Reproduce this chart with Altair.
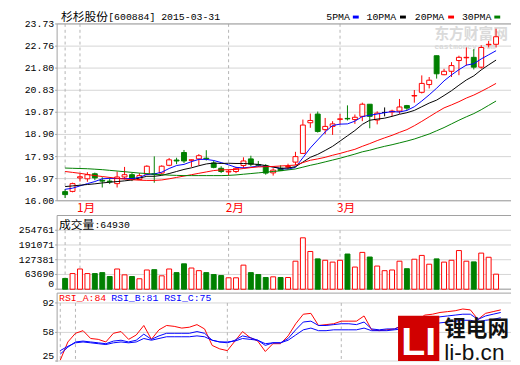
import altair as alt
import pandas as pd

stock_name = "杉杉股份"
stock_code = "600884"

dates = [
    "2014-12-30", "2014-12-31",
    "2015-01-05", "2015-01-06", "2015-01-07", "2015-01-08", "2015-01-09",
    "2015-01-12", "2015-01-13", "2015-01-14", "2015-01-15", "2015-01-16",
    "2015-01-19", "2015-01-20", "2015-01-21", "2015-01-22", "2015-01-23",
    "2015-01-26", "2015-01-27", "2015-01-28", "2015-01-29", "2015-01-30",
    "2015-02-02", "2015-02-03", "2015-02-04", "2015-02-05", "2015-02-06",
    "2015-02-09", "2015-02-10", "2015-02-11", "2015-02-12", "2015-02-13",
    "2015-02-16", "2015-02-17", "2015-02-25", "2015-02-26", "2015-02-27",
    "2015-03-02", "2015-03-03", "2015-03-04", "2015-03-05", "2015-03-06",
    "2015-03-09", "2015-03-10", "2015-03-11", "2015-03-12", "2015-03-13",
    "2015-03-16", "2015-03-17", "2015-03-18", "2015-03-19", "2015-03-20",
    "2015-03-23", "2015-03-24", "2015-03-25", "2015-03-26", "2015-03-27",
    "2015-03-30", "2015-03-31",
]

opens = [16.40, 16.41, 17.00, 16.96, 17.18, 16.89, 16.86, 16.75, 17.04, 17.14,
         16.93, 17.16, 17.18, 17.21, 17.55, 17.78, 18.11, 17.77, 17.83, 17.86,
         17.65, 17.42, 17.26, 17.28, 17.54, 17.83, 17.58, 17.53, 17.22, 17.42,
         17.47, 17.69, 18.07, 19.41, 19.79, 19.11, 19.25, 19.56, 19.60, 19.55,
         19.69, 20.22, 19.53, 19.86, 19.88, 19.92, 20.16, 20.58, 20.74, 21.08,
         22.34, 21.51, 21.66, 22.13, 22.25, 22.27, 21.84, 22.82, 22.84]
highs = [16.51, 16.79, 17.17, 17.25, 17.23, 17.03, 17.03, 17.28, 17.48, 17.21,
         17.21, 17.55, 17.94, 17.55, 17.87, 17.88, 18.22, 17.80, 18.04, 18.21,
         17.76, 17.51, 17.37, 17.48, 17.90, 17.97, 17.74, 17.60, 17.42, 17.55,
         17.62, 18.14, 19.55, 19.81, 19.90, 19.62, 19.48, 19.79, 20.17, 19.77,
         20.29, 20.22, 19.91, 20.08, 19.98, 20.45, 20.19, 20.84, 21.48, 21.41,
         22.34, 21.77, 22.06, 22.34, 22.70, 22.63, 22.80, 22.99, 23.52]
lows = [16.12, 16.37, 16.84, 16.83, 16.90, 16.58, 16.73, 16.58, 16.93, 16.86,
        16.90, 17.12, 16.79, 17.14, 17.51, 17.60, 17.65, 17.48, 17.55, 17.76,
        17.42, 17.21, 17.10, 17.21, 17.42, 17.51, 17.48, 17.14, 17.10, 17.30,
        17.38, 17.55, 18.05, 19.19, 18.98, 18.91, 18.88, 19.34, 19.51, 19.36,
        19.48, 19.17, 19.34, 19.69, 19.69, 19.80, 19.94, 20.29, 20.69, 20.91,
        21.34, 21.49, 21.41, 21.49, 21.91, 21.74, 21.77, 22.70, 22.70]
closes = [16.27, 16.75, 17.05, 17.14, 17.00, 16.86, 16.83, 17.04, 17.14, 16.97,
          17.10, 17.51, 17.15, 17.51, 17.79, 17.74, 17.74, 17.79, 17.97, 17.83,
          17.46, 17.28, 17.29, 17.42, 17.74, 17.60, 17.55, 17.21, 17.34, 17.32,
          17.50, 17.93, 19.31, 19.51, 19.03, 19.25, 19.36, 19.58, 19.58, 19.65,
          20.22, 19.69, 19.83, 19.86, 19.92, 20.10, 20.05, 20.60, 21.13, 21.27,
          21.55, 21.66, 21.91, 22.27, 22.27, 21.84, 22.70, 22.84, 23.17]
volumes = [46400, 67500, 87300, 67500, 67500, 71700, 54800, 87300, 62000, 54800,
           45000, 83000, 84400, 57800, 87300, 71700, 109700, 91500, 80100, 71700,
           63300, 59000, 49300, 49300, 104000, 71700, 63300, 50600, 53400, 50600,
           50600, 121000, 222000, 163000, 131000, 125000, 117000, 125000, 152000, 95700,
           159000, 139000, 100000, 80000, 83000, 121000, 88600, 129500, 146000, 108000,
           131000, 117000, 125000, 167000, 121000, 118000, 156000, 138000, 64930]

ma5 = [16.50, 16.55, 16.65, 16.75, 16.84, 16.96, 16.98, 16.97, 16.97, 16.97,
       17.02, 17.15, 17.17, 17.25, 17.41, 17.54, 17.59, 17.71, 17.81, 17.81,
       17.76, 17.67, 17.57, 17.46, 17.44, 17.47, 17.52, 17.50, 17.49, 17.40,
       17.38, 17.46, 17.88, 18.31, 18.66, 19.01, 19.29, 19.35, 19.36, 19.48,
       19.68, 19.74, 19.79, 19.85, 19.90, 19.88, 19.95, 20.11, 20.36, 20.63,
       20.92, 21.24, 21.50, 21.73, 21.93, 21.99, 22.20, 22.38, 22.56]
ma10 = [16.62, 16.65, 16.68, 16.71, 16.74, 16.78, 16.81, 16.84, 16.87, 16.91,
        16.99, 17.07, 17.07, 17.11, 17.19, 17.28, 17.37, 17.44, 17.53, 17.61,
        17.65, 17.63, 17.64, 17.63, 17.63, 17.61, 17.59, 17.54, 17.47, 17.42,
        17.43, 17.49, 17.69, 17.90, 18.03, 18.20, 18.38, 18.61, 18.84, 19.07,
        19.34, 19.52, 19.57, 19.61, 19.69, 19.78, 19.85, 19.95, 20.11, 20.27,
        20.40, 20.60, 20.81, 21.05, 21.28, 21.46, 21.72, 21.94, 22.15]
ma20 = [17.28, 17.24, 17.20, 17.15, 17.10, 17.06, 17.02, 16.98, 16.95, 16.92,
        16.90, 16.89, 16.89, 16.91, 16.96, 17.02, 17.08, 17.14, 17.20, 17.26,
        17.32, 17.35, 17.36, 17.37, 17.41, 17.45, 17.48, 17.49, 17.50, 17.52,
        17.54, 17.56, 17.67, 17.77, 17.83, 17.90, 17.99, 18.07, 18.16, 18.25,
        18.38, 18.50, 18.63, 18.75, 18.86, 18.99, 19.11, 19.28, 19.47, 19.67,
        19.87, 20.06, 20.19, 20.33, 20.49, 20.62, 20.78, 20.95, 21.13]
ma30 = [17.43, 17.42, 17.41, 17.40, 17.38, 17.36, 17.33, 17.30, 17.27, 17.24,
        17.21, 17.19, 17.16, 17.14, 17.12, 17.11, 17.10, 17.10, 17.10, 17.10,
        17.10, 17.10, 17.11, 17.13, 17.16, 17.19, 17.22, 17.25, 17.28, 17.31,
        17.35, 17.39, 17.47, 17.55, 17.62, 17.70, 17.78, 17.86, 17.95, 18.04,
        18.14, 18.21, 18.30, 18.38, 18.45, 18.53, 18.61, 18.70, 18.81, 18.92,
        19.06, 19.20, 19.36, 19.52, 19.67, 19.81, 19.98, 20.17, 20.36]

rsi_a = [26, 47, 57, 60, 51, 50, 47, 57, 59, 50,
         55, 66, 50, 61, 66, 65, 63, 64, 67, 62,
         43, 39, 37, 48, 59, 52, 48, 36, 45, 45,
         54, 68, 79, 80, 66, 67, 68, 71, 71, 71,
         77, 61, 60, 61, 62, 66, 64, 72, 78, 79,
         81, 82, 83, 85, 84, 73, 80, 82, 84]
rsi_b = [33, 41, 47, 48, 47, 46, 45, 48, 49, 47,
         49, 56, 50, 54, 57, 57, 57, 57, 59, 57,
         49, 47, 46, 49, 54, 52, 49, 43, 46, 46,
         51, 61, 70, 71, 66, 66, 67, 68, 68, 67,
         70, 62, 61, 62, 62, 65, 64, 68, 72, 74,
         76, 77, 78, 79, 79, 73, 77, 79, 81]
rsi_c = [37, 42, 46, 47, 46, 45, 44, 46, 47, 46,
         47, 51, 49, 51, 53, 53, 53, 53, 54, 53,
         49, 47, 47, 48, 51, 50, 49, 45, 46, 46,
         49, 55, 61, 63, 60, 60, 61, 61, 61, 61,
         63, 60, 60, 60, 61, 62, 62, 64, 66, 67,
         69, 70, 71, 72, 72, 70, 72, 73, 75]

price_ticks = [16.00, 16.97, 17.93, 18.90, 19.87, 20.83, 21.80, 22.76, 23.73]
vol_ticks = [0, 63690, 127381, 191071, 254761]
rsi_ticks = [25, 58, 92]
ma_names = ["5PMA", "10PMA", "20PMA", "30PMA"]

# ---------------------------------------------------------------- styles
MONO = "Liberation Mono"
CJK = "Noto Sans CJK SC"
RED, GREEN, BLUE, BLACK = "#ff0000", "#008000", "#0000ff", "#000000"
GRID, FRAME, DASH = "#d4d4d4", "#a0a0a0", "#b4b4b4"
W = 462

# ---------------------------------------------------------------- data frames
df = pd.DataFrame({
    "i": list(range(len(dates))), "date": dates,
    "open": opens, "high": highs, "low": lows, "close": closes, "vol": volumes,
    "ma5": ma5, "ma10": ma10, "ma20": ma20, "ma30": ma30,
    "rsi_a": rsi_a, "rsi_b": rsi_b, "rsi_c": rsi_c,
})
df["kind"] = ["up" if c > o else ("down" if c < o else "flat") for o, c in zip(opens, closes)]
df["vkind"] = ["down" if k == "down" else "up" for k in df["kind"]]

mi, ml = [], []
for k, d in enumerate(dates):
    m = int(d[5:7])
    if k == 0 or m != int(dates[k - 1][5:7]):
        mi.append(k)
        ml.append("" if k == 0 else f"{m}月")
months = pd.DataFrame({"i": mi, "label": ml})
one = pd.DataFrame({"a": [0]})

xs = alt.Scale(domain=[-0.414, 59.35], nice=False, zero=False)
X = alt.X("i:Q", scale=xs, axis=None)
kind_fill = alt.Scale(domain=["up", "down", "flat"], range=["#ffffff", GREEN, BLACK])
kind_stroke = alt.Scale(domain=["up", "down", "flat"], range=[RED, GREEN, BLACK])


def Yf(field, scale):
    return alt.Y(f"{field}:Q", scale=scale, axis=None)


def txt(s, x, y, font, size, color, weight="normal", align="left"):
    return alt.Chart(pd.DataFrame({"t": [s]})).mark_text(
        align=align, baseline="middle", font=font, fontSize=size, fontWeight=weight, color=color
    ).encode(x=alt.value(x), y=alt.value(y), text="t:N")


def axis_layers(scale, ticks, fmt, bottom_val=None):
    tdf = pd.DataFrame({"v": ticks, "label": [fmt(t) for t in ticks]})
    c = alt.Chart(tdf)
    layers = [
        c.mark_rule(color=GRID, strokeWidth=1).encode(x=alt.value(0), x2=alt.value(W), y=Yf("v", scale)),
        c.mark_rule(color=FRAME, strokeWidth=1).encode(x=alt.value(-2), x2=alt.value(0), y=Yf("v", scale)),
    ]
    bot_test = f"datum.v == {bottom_val}" if bottom_val is not None else "false"
    layers.append(c.transform_filter(f"!({bot_test})").mark_text(
        align="right", baseline="middle", font=MONO, fontSize=10, color=BLACK
    ).encode(x=alt.value(-3), y=Yf("v", scale), text="label:N"))
    if bottom_val is not None:
        layers.append(c.transform_filter(bot_test).mark_text(
            align="right", baseline="bottom", font=MONO, fontSize=10, color=BLACK
        ).encode(x=alt.value(-3), y=Yf("v", scale), text="label:N"))
    return layers


def frame(scale, top, bot, draw_bottom=True):
    fdf = pd.DataFrame({"top": [top], "bot": [bot]})
    c = alt.Chart(fdf)
    layers = [
        c.mark_rule(color=FRAME, strokeWidth=1).encode(x=alt.value(0), x2=alt.value(W), y=Yf("top", scale)),
        c.mark_rule(color=FRAME, strokeWidth=1).encode(x=alt.value(0), y=Yf("top", scale), y2="bot:Q"),
    ]
    if draw_bottom:
        layers.append(c.mark_rule(color=FRAME, strokeWidth=1).encode(
            x=alt.value(0), x2=alt.value(W), y=Yf("bot", scale)))
    return layers


def month_rules(scale, top, bot):
    mdf = months.assign(top=top, bot=bot)
    return alt.Chart(mdf).mark_rule(color=DASH, strokeDash=[3, 3], strokeWidth=1).encode(
        x=X, y=Yf("top", scale), y2="bot:Q")


base = alt.Chart(df)

# ---------------------------------------------------------------- main panel
ps = alt.Scale(domain=[15.5276, 23.73], nice=False, zero=False)
wicks = base.mark_rule(strokeWidth=1).encode(
    x=X, y=Yf("low", ps), y2="high:Q",
    stroke=alt.Stroke("kind:N", scale=kind_stroke, legend=None))
bodies = base.mark_bar(size=5, strokeWidth=1).encode(
    x=X, y=Yf("open", ps), y2="close:Q",
    fill=alt.Fill("kind:N", scale=kind_fill, legend=None),
    stroke=alt.Stroke("kind:N", scale=kind_stroke, legend=None))
ma_colors = [BLUE, BLACK, RED, GREEN]
ma_lines = [base.mark_line(strokeWidth=1, color=c).encode(x=X, y=Yf(f, ps))
            for f, c in zip(["ma5", "ma10", "ma20", "ma30"], ma_colors)]
month_labels = alt.Chart(months).transform_filter("datum.label != ''").mark_text(
    align="left", baseline="middle", dx=-3, font=CJK, fontSize=12, color=RED
).encode(x=X, y=alt.value(187), text="label:N")

legend_layers = []
for name, col, tx, sx in zip(ma_names, ma_colors, [274, 315, 364, 412], [301, 349, 398, 445]):
    legend_layers.append(txt(name, tx, -7, MONO, 10, BLACK))
    legend_layers.append(alt.Chart(one).mark_rule(color=col, strokeWidth=3).encode(
        x=alt.value(sx), x2=alt.value(sx + 6), y=alt.value(-7)))

anchor = alt.Chart(one).mark_rule(opacity=0).encode(
    x=alt.value(-49.5), x2=alt.value(-49.5), y=alt.value(-12.5), y2=alt.value(-12.5))

main = alt.layer(
    anchor,
    *axis_layers(ps, price_ticks, lambda t: f"{t:.2f}"),
    txt("东方财富网", 384, 10, CJK, 15, "#dadada", weight="bold"),
    txt("eastmoney.com", 384, 24, MONO, 8, "#d8d8d8", weight="bold"),
    month_rules(ps, 23.73, 16.0),
    *frame(ps, 23.73, 16.0),
    wicks, bodies, *ma_lines, month_labels,
    txt(stock_name, 4, -7, CJK, 12, BLACK),
    txt(f"[{stock_code}] {dates[-1]}", 52, -7, MONO, 10, BLACK),
    *legend_layers,
).properties(width=W, height=191)

# ---------------------------------------------------------------- volume panel
vs = alt.Scale(domain=[0, 318450], nice=False, zero=True)
vbars = base.mark_bar(size=5, strokeWidth=1).encode(
    x=X, y=Yf("vol", vs),
    fill=alt.Fill("vkind:N", scale=kind_fill, legend=None),
    stroke=alt.Stroke("vkind:N", scale=kind_stroke, legend=None))
vol = alt.layer(
    *axis_layers(vs, vol_ticks, lambda t: f"{t}", bottom_val=0),
    month_rules(vs, 254761, 0),
    *frame(vs, 318450, 0),
    vbars,
    txt("成交量", 2, 10, CJK, 12, BLACK),
    txt(f":{volumes[-1]}", 38, 10, MONO, 10, BLACK),
).properties(width=W, height=75)

# ---------------------------------------------------------------- RSI panel
rs = alt.Scale(domain=[24.0, 103.33], nice=False, zero=False)
rsi_lines = [
    base.mark_line(strokeWidth=1, color=RED).encode(x=X, y=Yf("rsi_a", rs)),
    base.mark_line(strokeWidth=1, color=BLUE).encode(x=X, y=Yf("rsi_b", rs)),
    base.mark_line(strokeWidth=1, color=BLUE).encode(x=X, y=Yf("rsi_c", rs)),
]
logo = [
    alt.Chart(one).mark_rect(color="#d10000").encode(
        x=alt.value(347), x2=alt.value(389), y=alt.value(23), y2=alt.value(69)),
    alt.Chart(pd.DataFrame({"t": ["LI"]})).mark_text(
        align="center", baseline="alphabetic", font="Liberation Sans", fontSize=40,
        fontWeight="bold", color="#ffffff").encode(x=alt.value(368), y=alt.value(63), text="t:N"),
    txt("锂电网", 394, 37, CJK, 22, "#111111", weight="bold"),
    txt("li-b.cn", 394, 61, "Liberation Sans", 23, "#111111"),
]
rsi = alt.layer(
    *axis_layers(rs, rsi_ticks, lambda t: f"{t}", bottom_val=25),
    month_rules(rs, 92, 24.0),
    *frame(rs, 103.33, 24.0, draw_bottom=False),
    *rsi_lines,
    txt(f"RSI_A:{rsi_a[-1]}", 2, 5, MONO, 10, RED),
    txt(f"RSI_B:{rsi_b[-1]}", 55, 5, MONO, 10, BLUE),
    txt(f"RSI_C:{rsi_c[-1]}", 109, 5, MONO, 10, BLUE),
    *logo,
).properties(width=W, height=70)

chart = alt.vconcat(main, vol, rsi, spacing=4, bounds="flush").properties(
    padding=0, background="#ffffff"
).configure_view(strokeWidth=0, stroke="transparent")

chart.save("out.html", embed_options={"renderer": "svg", "actions": False})
